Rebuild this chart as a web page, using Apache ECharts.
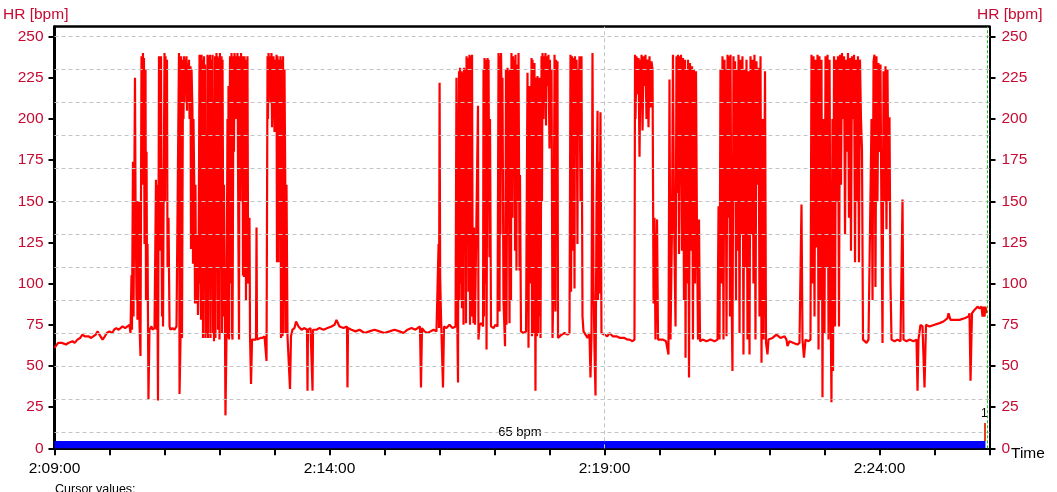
<!DOCTYPE html>
<html>
<head>
<meta charset="utf-8">
<script src="https://cdn.jsdelivr.net/npm/echarts@6/dist/echarts.min.js"></script>
<style>
html,body{margin:0;padding:0;background:#fff;}
#chart{width:1057px;height:492px;}
</style>
</head>
<body>
<div id="chart"></div>
<script>
// ---- data: [seconds after 2:09:00, HR bpm] ----
const base1 = [[0,61],[2,62],[4,64],[5.5,65],[8,64],[10,63],[12.7,63],[15,64],[17,65],[19.6,65],[22,64],[25,66],[28,67],[30.5,69],[33,68],[35,67],[37,68],[40,67],[42,68],[45,69],[47,71],[49,69],[52.4,66],[55,68],[57,70],[60,71],[63,70],[65,72],[67.3,73],[70,72],[72,73],[74.2,74],[77,73],[79,74],[81.8,75]];
const burst1 = [[82.9,70],[84,105],[84.5,72],[85.6,174],[86.2,80],[87.8,225],[88.4,150],[89.5,90],[90,150],[90.5,78],[91,145],[91.6,80],[92.2,150],[92.7,76],[93.8,56],[94.9,238],[96,160],[96.5,240],[97.1,200],[97.6,237],[98.2,124],[99.3,230],[99.8,90],[100.4,180],[100.9,100],[101.5,124],[102.5,30],[103.6,72],[105.8,74],[106.9,72],[109.1,73],[110.2,74],[110.7,163],[111.3,72],[111.8,160],[112.9,29],[114,238],[114.5,120],[115.1,236],[115.6,200],[116.2,238],[116.7,136],[117.3,80],[117.8,170],[118.4,74],[118.9,136],[120,240],[120.5,150],[121.1,238],[122.2,200],[122.7,236],[123.3,110],[124.4,140],[125.5,74],[126.5,72],[128.7,73],[130.9,72],[133.1,74],[134.7,73],[135.8,240],[136.4,33],[137.5,67],[138,238],[139.1,67],[140.2,236],[140.7,200],[141.3,238],[141.8,210],[142.4,236],[142.9,215],[144,238],[144.5,205],[145.1,234],[146.2,210],[146.7,236],[147.3,200],[148.4,232],[148.9,121],[149.5,230],[150.5,205],[151.1,112],[151.6,200],[152.7,150],[153.3,88],[153.8,160],[154.4,90],[154.9,105],[155.5,88],[156,130],[156.5,81],[157.1,100],[158.2,239],[158.7,100],[159.3,235],[159.8,78],[160.4,239],[160.9,90],[161.5,236],[162,67],[163.1,238],[163.6,140],[164.2,233],[164.7,67],[165.8,140],[166.4,70],[166.9,239],[167.5,67],[168.5,238],[169.1,100],[169.6,239],[170.2,67],[171.3,236],[171.8,130],[172.4,239],[172.9,70],[173.5,200],[174,65],[175.1,238],[175.6,67],[176.7,240],[177.3,150],[177.8,238],[178.4,72],[178.9,237],[180,66],[180.5,240],[181.1,110],[182.2,238],[182.7,70],[183.3,236],[184.4,80],[184.9,160],[186,70],[186.5,20],[187.6,66],[188.7,200],[189.2,67],[189.8,220],[190.4,66],[190.9,180],[191.5,238],[192,100],[193.1,240],[193.6,70],[194.2,66],[195.3,238],[195.8,180],[196.4,240],[197.5,200],[198.5,238],[199.1,210],[199.6,240],[200.7,120],[201.3,66],[201.8,238],[202.9,150],[203.5,240],[204,200],[205.1,238],[205.6,105],[206.2,236],[206.7,104],[207.3,238],[208.4,180],[208.9,90],[209.5,236],[210,100],[210.5,238],[211.1,130],[211.6,100],[212.7,140],[213.3,68],[214.4,39],[215.5,66],[217.1,65],[219.8,66],[220.4,134],[220.9,66],[222.5,66],[224.7,67],[226.9,67],[229.1,68],[230.7,68],[231.3,53],[232.4,238],[232.9,200],[233.5,240],[234.5,220],[235.1,238],[235.6,210],[236.7,240],[237.3,195],[237.8,236],[238.4,215],[238.9,238],[240,192],[241.1,236],[241.6,210],[242.2,239],[242.7,113],[243.3,238],[244.4,113],[244.9,236],[245.5,150],[246.5,238],[247.1,67],[247.6,236],[248.7,68],[249.3,238],[249.8,70],[250.9,230],[252,140],[252.5,70],[253.1,160],[254.2,68],[255.8,69],[256.9,36],[258,68],[259.6,72],[261.8,73]];
const base2 = [[263.5,77],[266.2,74],[269.5,72],[272.7,73],[275.5,72],[276,35],[276.5,72],[279.3,73],[281.5,35],[282,72],[285.8,72],[289.1,73],[293.5,72],[297.8,73],[302.2,74],[305.5,75],[307.6,78],[310.9,74],[315.3,73],[319.1,74],[319.6,37],[320.2,73],[324,72],[328.4,71],[332.7,72],[338.2,70],[343.6,71],[349.1,72],[354.5,71],[360,70],[365.5,71],[370.9,72],[376.4,71],[380.7,70],[385.1,72],[389.5,73],[393.8,72],[398.7,74],[399.8,37],[400.9,73],[403.6,71],[406.9,70],[410.2,71],[413.5,72],[416.7,71],[418.4,72]];
const burst2 = [[419,124],[419.5,73],[420.1,222],[420.7,105],[421.7,79],[423.8,37],[424.9,74],[427.6,73],[430.9,75],[434.2,73],[437.5,74],[438.5,225],[439.1,90],[440.2,40],[440.7,180],[441.3,229],[441.8,90],[442.4,231],[442.9,100],[444,229],[444.5,85],[445.1,228],[446.2,75],[446.7,231],[447.3,154],[448.4,230],[448.9,76],[449.5,238],[450.5,134],[451.1,237],[451.6,95],[452.7,239],[453.3,75],[453.8,238],[454.9,80],[455.5,239],[456,134],[457.1,76],[457.6,134],[458.7,75],[460.4,74],[462,208],[462.5,66],[463.6,75],[465.8,76],[467.5,74],[468,230],[468.5,80],[469.1,237],[470.2,100],[470.7,236],[471.3,60],[472.4,237],[472.9,150],[473.5,236],[474.5,116],[475.1,200],[476.2,74],[478.9,73],[481.1,75],[483.3,74],[484.4,240],[485.5,83],[486,238],[486.5,130],[487.1,240],[488.2,200],[488.7,225],[489.8,90],[491.5,62],[492.5,230],[493.1,75],[494.2,231],[494.7,150],[495.3,229],[496.4,76],[496.9,230],[498,90],[498.5,240],[499.6,140],[500.2,238],[500.7,200],[501.8,236],[502.4,120],[502.9,239],[504,108],[504.5,233],[505.1,150],[506.2,240],[507.3,108],[507.8,166],[508.9,71],[511.6,70],[514.4,71],[516,228],[517.1,61],[518.2,220],[519.3,100],[520.4,237],[520.9,68],[521.5,236],[522,80],[522.5,230],[523.1,70],[523.6,234],[524.7,35],[525.8,225],[526.4,68],[526.9,226],[527.5,70],[528,225],[529.1,80],[529.6,225],[530.2,67],[531.3,238],[531.8,150],[532.4,240],[533.5,200],[534,238],[534.5,210],[535.6,240],[536.2,196],[536.7,238],[537.8,220],[538.9,239],[540,182],[540.5,236],[541.1,200],[542.2,230],[543.3,67],[544.4,100],[545.5,239],[546.5,83],[547.1,236],[547.6,140],[548.7,235],[549.3,67],[550.4,68],[553.1,69],[556.4,70],[559.6,69],[561.8,70],[562.9,239],[563.5,95],[564.5,238],[565.1,120],[566.2,237],[567.3,97],[567.8,238],[568.4,180],[569.5,236],[570.5,124],[571.1,230],[571.6,200],[572.7,238],[573.8,150],[574.9,238],[576,80],[577.1,71],[579.3,69],[581.5,67],[583.6,70],[584.7,43],[585.8,68],[586.9,240],[588,100],[589.1,60],[590.2,32],[591.3,150],[592.4,205],[592.9,90],[594,174],[594.5,94],[595.6,204],[596.7,70]];
const base3 = [[600,69],[603,68],[605.5,70],[609,68],[613.1,68],[617,67],[621.8,67],[625,66],[627.3,66],[630.5,65],[632.7,66]];
const burst3 = [[633.3,239],[633.8,200],[634.9,238],[636,215],[637.1,237],[638.2,177],[639.3,236],[639.8,210],[640.4,239],[641.5,193],[642.6,238],[643.6,220],[644.7,239],[645.8,200],[646.9,236],[648,195],[649.1,238],[650.2,207],[651.3,235],[652.4,230],[653.5,88],[654.5,140],[655.6,66],[657.3,139],[658.4,66],[660.5,65],[663.8,66],[667.1,65],[669.8,57],[670.9,224],[672,66],[673.6,134],[674.7,239],[675.8,140],[677.5,74],[678.5,238],[679.6,155],[680.2,239],[681.3,118],[682.4,238],[682.9,160],[683.5,239],[684.5,120],[685.6,237],[686.7,90],[687.8,236],[688.4,55],[689.5,230],[690.5,100],[691.1,236],[692.2,43],[693.3,234],[694.4,120],[695.5,232],[696.5,66],[697.6,230],[698.7,100],[699.8,229],[700.9,130],[702,66],[703.1,139],[704.2,65]];
const base4 = [[706.9,66],[711.3,65],[715.6,66],[720,65],[723.3,66]];
const burst3b = [[724.4,147],[725.5,66],[726.5,230],[727.6,100],[728.7,238],[729.8,66],[730.9,236],[731.5,150],[732,230],[733.1,68],[734.2,239],[735.3,140],[735.8,238],[736.9,80],[737.5,239],[738.5,100],[739.6,47],[740.7,238],[741.3,150],[742.4,235],[743.5,90],[744,230],[745.1,120],[746.2,239],[747.3,70],[748.4,236],[749.5,130],[750.5,238],[751.6,57],[752.7,230],[753.8,110],[754.9,236],[756,66],[757.1,229],[758.2,57],[759.3,238],[760.4,130],[761.5,236],[762.5,100],[763.6,239],[764.7,66],[765.8,235],[766.9,160],[768,231],[769.1,80],[770.2,238],[771.3,52],[772.4,200],[773.5,66],[775.1,229],[776.2,64],[777.8,57],[778.9,66]];
const base5 = [[783.3,67],[787.6,69],[792,67],[796.4,68],[798.5,66],[799.6,62],[801.8,65],[806.2,64],[810.5,63],[812.7,64],[814.9,148],[816,66],[817.6,55],[819.3,66],[822.5,65],[824.7,66]];
const burst4 = [[825.8,239],[826.9,100],[828,238],[829.1,80],[830.2,236],[831.3,122],[832.4,239],[833.5,60],[834.5,238],[835.6,90],[836.7,236],[837.8,31],[838.9,200],[840,70],[841.1,238],[842.2,110],[843.3,239],[844.4,66],[845.5,236],[846.5,100],[847.6,28],[848.7,200],[849.3,47],[850.4,238],[851.5,74],[852.5,236],[853.6,150],[854.7,238],[855.8,74],[856.9,239],[858,160],[859.1,240],[860.2,200],[861.3,238],[862.4,130],[863.5,236],[864.5,180],[865.6,240],[866.7,140],[867.8,237],[868.9,120],[870,238],[871.1,200],[872.2,239],[873.3,113],[874.4,236],[875.5,150],[876.5,238],[877.6,113],[878.7,236],[879.8,200],[880.9,181],[882,66],[883.6,65],[885.8,64],[888,66],[889.6,65],[891.3,200],[892.4,90],[893.5,235],[894.5,239],[895.6,98],[896.7,238],[897.8,150],[898.9,234],[900,180],[901.1,233],[902.2,133],[903.3,64],[904.4,229],[905.5,150],[906.5,232],[907.6,133],[908.7,230],[909.8,150],[910.9,201],[912,100]];
const base6 = [[913.1,66],[916.4,65],[919.6,66],[922.9,65],[924.5,66],[925.1,151],[926.2,66],[929.5,65],[932.7,66],[937.1,65],[940.4,66],[941.5,35],[942.5,66],[944.7,75],[946.9,74],[949.1,37],[950.7,75],[954.5,74],[960,75],[965.5,76],[969.8,77],[974.2,79],[975.3,82],[977.5,78],[981.8,78],[987.3,78],[992.7,79],[997.1,80],[998.2,82],[999.3,41],[1000.9,82],[1003.6,84],[1006.9,86],[1009.1,85],[1011.3,86],[1012.4,80],[1013.5,86],[1014.5,80],[1015.6,86],[1016.7,82]];

// axes / annotations
const yTicks = [0,25,50,75,100,125,150,175,200,225,250];
const gridValues = [10,30,50,70,90,110,130,150,170,190,210,230,250];
const timeLabelSeconds = [0,300,600,900];
const timeLabels = ['2:09:00','2:14:00','2:19:00','2:24:00'];
const cursorSecond = 600;
const endMarkerSecond = 1017.8;
const zoneLabel = '65 bpm';
const zoneSpan = [0, 1015.6];
const zoneRange = [0, 4.4];
const lapSeconds = [1014.5];
const lapLabels = ['1'];
const lapRange = [4.4, 15.4];

const hrData = [].concat(base1, burst1, base2, burst2, base3, burst3, base4, burst3b, base5, burst4, base6);

const FONT = 'Liberation Sans, Arial, sans-serif';
const RED_TXT = '#c80a32';

const chart = echarts.init(document.getElementById('chart'), null, {renderer: 'canvas'});
chart.setOption({
  animation: false,
  backgroundColor: '#ffffff',
  textStyle: {fontFamily: FONT},
  grid: {left: 54.5, right: 67.5, top: 26.7, bottom: 43.7, containLabel: false},
  title: [
    {text: 'HR [bpm]', left: 3, top: 7, padding: 0, textStyle: {color: RED_TXT, fontSize: 15.5, fontWeight: 'normal', fontFamily: FONT}},
    {text: 'HR [bpm]', left: 977, top: 7, padding: 0, textStyle: {color: RED_TXT, fontSize: 15.5, fontWeight: 'normal', fontFamily: FONT}},
    {text: 'Time', left: 1011, top: 446, padding: 0, textStyle: {color: '#000', fontSize: 15.5, fontWeight: 'normal', fontFamily: FONT}},
    {text: 'Cursor values:', left: 55, top: 483, padding: 0, textStyle: {color: '#000', fontSize: 12.5, fontWeight: 'normal', fontFamily: FONT}}
  ],
  xAxis: [
    {
      type: 'value', min: 0, max: 1020, interval: 60, position: 'bottom',
      axisLine: {show: true, onZero: false, lineStyle: {color: '#000', width: 2}},
      axisTick: {show: true, length: 7, lineStyle: {color: '#000', width: 2}},
      axisLabel: {
        margin: 12, color: '#000', fontSize: 15.5, fontFamily: FONT,
        formatter: function (v) { const i = timeLabelSeconds.indexOf(v); return i >= 0 ? timeLabels[i] : ''; }
      },
      splitLine: {show: false}
    },
    {
      type: 'value', min: 0, max: 1020, position: 'top',
      axisLine: {show: true, onZero: false, lineStyle: {color: '#000', width: 2.5}},
      axisTick: {show: false}, axisLabel: {show: false}, splitLine: {show: false}
    }
  ],
  yAxis: [
    {
      type: 'value', min: 0, max: 256, interval: 25, position: 'left',
      axisLine: {show: true, onZero: false, lineStyle: {color: '#000', width: 3}},
      axisTick: {show: true, length: 6, customValues: yTicks, lineStyle: {color: '#000', width: 2}},
      axisLabel: {margin: 11, color: RED_TXT, fontSize: 15.5, fontFamily: FONT, customValues: yTicks},
      splitLine: {show: false}
    },
    {
      type: 'value', min: 0, max: 256, interval: 25, position: 'right',
      axisLine: {show: true, onZero: false, lineStyle: {color: '#000', width: 2}},
      axisTick: {show: true, length: 6, customValues: yTicks, lineStyle: {color: '#000', width: 2}},
      axisLabel: {margin: 12, color: RED_TXT, fontSize: 15.5, fontFamily: FONT, customValues: yTicks},
      splitLine: {show: false}
    }
  ],
  series: [
    {
      name: 'grid', type: 'line', data: [], z: 1, silent: true,
      markLine: {
        silent: true, symbol: ['none', 'none'], label: {show: false}, animation: false,
        lineStyle: {color: '#c4c4c4', type: [4, 3], width: 1},
        data: gridValues.map(v => ({yAxis: v})).concat([{xAxis: cursorSecond}])
      }
    },
    {
      name: 'end', type: 'line', data: [], z: 1, silent: true,
      markLine: {
        silent: true, symbol: ['none', 'none'], label: {show: false}, animation: false,
        lineStyle: {color: '#22bb22', type: [3, 2], width: 1},
        data: [{xAxis: endMarkerSecond}]
      }
    },
    {
      name: 'HR', type: 'line', data: hrData, z: 3,
      showSymbol: false, symbol: 'none', sampling: null, smooth: false,
      lineStyle: {color: '#ff0000', width: 2.2, join: 'bevel'},
      itemStyle: {color: '#ff0000'}
    },
    {
      name: 'zone', type: 'line', data: [], z: 4, silent: true,
      markArea: {
        silent: true, animation: false,
        itemStyle: {color: '#0000ff', opacity: 1},
        label: {show: true, position: 'top', distance: 2, formatter: zoneLabel, color: '#000', fontSize: 13, fontFamily: FONT},
        data: [[{xAxis: zoneSpan[0], yAxis: zoneRange[0]}, {xAxis: zoneSpan[1], yAxis: zoneRange[1]}]]
      },
      markLine: {
        silent: true, symbol: ['none', 'none'], animation: false,
        lineStyle: {color: '#e8401c', type: 'solid', width: 2},
        label: {show: true, position: 'end', distance: 3, color: '#000', fontSize: 12, fontFamily: FONT, formatter: function (p) { return lapLabels[p.dataIndex] || ''; }},
        data: lapSeconds.map(s => [{coord: [s, lapRange[0]]}, {coord: [s, lapRange[1]]}])
      }
    }
  ]
});
</script>
</body>
</html>
